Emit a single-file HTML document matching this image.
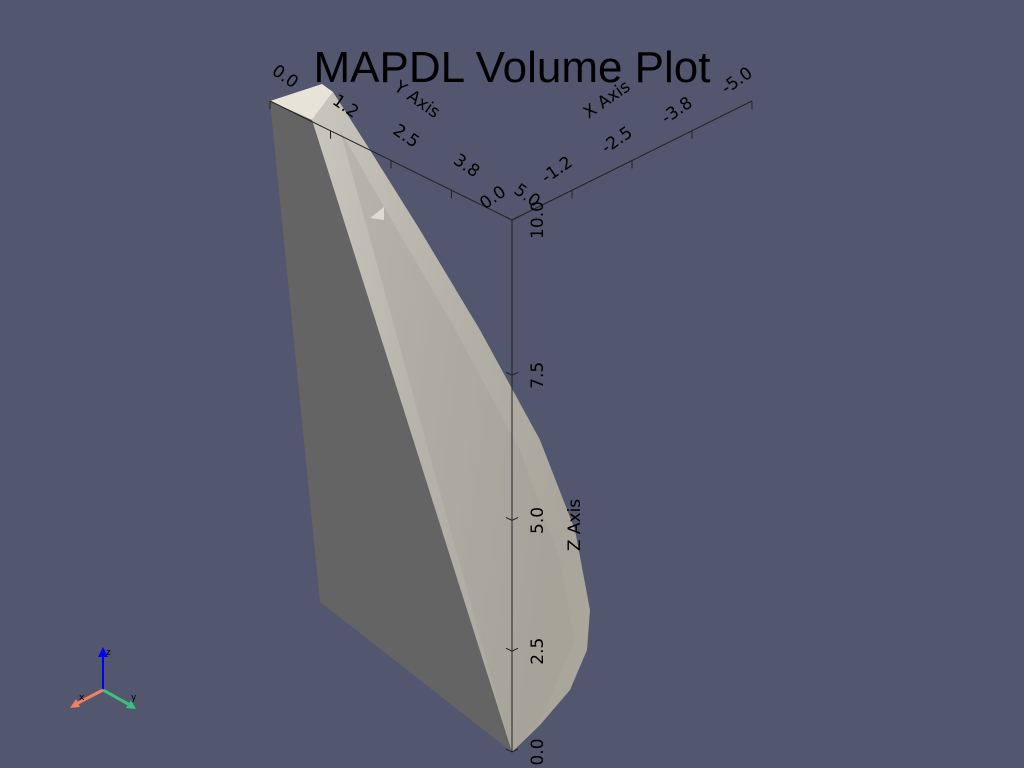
<!DOCTYPE html>
<html><head><meta charset="utf-8"><style>
html,body{margin:0;padding:0;background:#52566e;}
svg{display:block;font-family:"DejaVu Sans","Liberation Sans",sans-serif;}
</style></head><body>
<svg id="chart" width="1024" height="768" viewBox="0 0 1024 768">
<defs>
<linearGradient id="lg" x1="0" y1="0" x2="1" y2="0.3">
<stop offset="0" stop-color="#c9c6bd"/><stop offset="0.5" stop-color="#b6b3aa"/><stop offset="1" stop-color="#a9a69c"/>
</linearGradient>
</defs>
<rect width="1024" height="768" fill="#52566e"/>
<polygon points="270,101 312,120 512,752 320,602" fill="#646464"/>
<polygon points="312,120 333,92 370,150 420,230 480,330 540,440 575,530 590,610 587,650 570,690 540,725 512,752" fill="url(#lg)"/>
<polygon points="340,130 380,200 450,320 520,450 560,560 575,640 540,720 512,752 420,420" fill="#a19e95" opacity="0.35"/>
<polygon points="270,101 322,84 333,92 312,120" fill="#e8e3d8"/>
<polygon points="370,218 384,207 384,220" fill="#dedad0"/>
<text x="512" y="82" font-size="44" text-anchor="middle" fill="#000" font-family="'Liberation Sans',sans-serif" font-weight="300">MAPDL Volume Plot</text>
<g id="axes" stroke="#222" stroke-width="1" fill="none"></g>
<g id="labels" fill="#000" font-size="17"></g>
<g>
<line x1="103" y1="690" x2="103" y2="655" stroke="#0000ff" stroke-width="2"/>
<polygon points="98,657 108,657 103,647" fill="#0000ff"/>
<text x="106" y="655" font-size="9" fill="#000">z</text>
<line x1="103" y1="690" x2="76" y2="704" stroke="#f08060" stroke-width="3"/>
<polygon points="70,708 76,699 80,707" fill="#f08060"/>
<text x="79" y="700" font-size="9" fill="#000">x</text>
<line x1="103" y1="690" x2="130" y2="705" stroke="#40c080" stroke-width="3"/>
<polygon points="136,709 126,708 131,700" fill="#40c080"/>
<text x="131" y="700" font-size="9" fill="#000">y</text>
</g>
</svg>
<script>
const yTicks=["0.0","1.2","2.5","3.8","5.0"];
const xTicks=["0.0","-1.2","-2.5","-3.8","-5.0"];
const zTicks=["0.0","2.5","5.0","7.5","10.0"];
const NS="http://www.w3.org/2000/svg";
const ax=document.getElementById('axes'),lb=document.getElementById('labels');
function mk(p,tag,a){const e=document.createElementNS(NS,tag);for(const k in a)e.setAttribute(k,a[k]);p.appendChild(e);return e;}
const O=[512,220],Yend=[270,101],Xend=[752,101];
function yPos(t){return [Yend[0]+(O[0]-Yend[0])*t,Yend[1]+(O[1]-Yend[1])*t];}
function xPos(t){return [O[0]+(Xend[0]-O[0])*t,O[1]+(Xend[1]-O[1])*t];}
function zPos(f){return [512,752-532*Math.pow(f,1.2)];}
let l;
l=mk(ax,'line',{x1:Yend[0],y1:Yend[1],x2:O[0],y2:O[1]});


l=mk(ax,'line',{x1:O[0],y1:O[1],x2:Xend[0],y2:Xend[1]});


l=mk(ax,'line',{x1:512,y1:220,x2:512,y2:752});


yTicks.forEach((v,i)=>{const t=i/(yTicks.length-1);const p=yPos(t);
 const k=mk(ax,'line',{x1:p[0],y1:p[1],x2:p[0],y2:p[1]+8});
 
 
 const cx=p[0]+12, cy=p[1]-20;
 const s=mk(lb,'text',{x:cx,y:cy,'text-anchor':'middle',transform:`rotate(35 ${cx} ${cy})`});
 s.textContent=v;
 
 
});
xTicks.forEach((v,i)=>{const t=i/(xTicks.length-1);const p=xPos(t);
 if(i>0){const k=mk(ax,'line',{x1:p[0],y1:p[1],x2:p[0],y2:p[1]+8});
 
 }
 const cx=p[0]-12+(i==0?-4:0), cy=p[1]-16+(i==0?-2:0);
 const s=mk(lb,'text',{x:cx,y:cy,'text-anchor':'middle',transform:`rotate(-35 ${cx} ${cy})`});
 s.textContent=v;
 
 
});
zTicks.forEach((v,i)=>{const f=i/(zTicks.length-1);const p=zPos(f);
 const k=mk(ax,'polyline',{points:`${p[0]-6},${p[1]-3} ${p[0]},${p[1]} ${p[0]+6},${p[1]-3}`});
 
 
 const s=mk(lb,'text',{x:p[0]+31,y:p[1],'text-anchor':'middle',transform:`rotate(-90 ${p[0]+31} ${p[1]})`});
 s.textContent=v;
 
 
});
function title(txt,x,y,r,n){const s=mk(lb,'text',{x:x,y:y,'text-anchor':'middle',transform:`rotate(${r} ${x} ${y})`});s.textContent=txt;
 
 }
title("Y Axis",414,104,35,'y-axis-title');
title("X Axis",610,104,-35,'x-axis-title');
title("Z Axis",580,525,-90,'z-axis-title');
</script>
</body></html>
